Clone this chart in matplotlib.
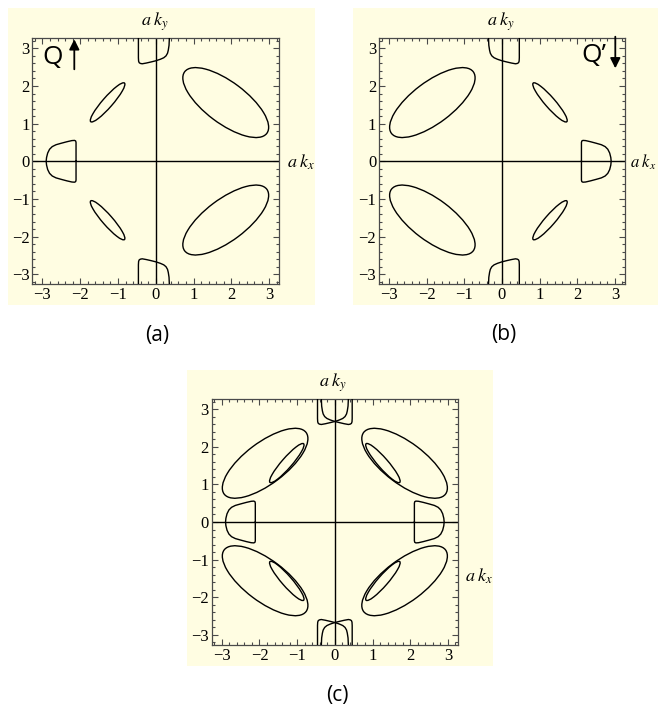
import matplotlib
matplotlib.use('Agg')
import matplotlib.pyplot as plt
from matplotlib.patches import Ellipse, Rectangle, FancyArrowPatch
from matplotlib.ticker import MultipleLocator

plt.rcParams['mathtext.fontset'] = 'stix'

# ---------------- data ----------------
ticks = [-3, -2, -1, 0, 1, 2, 3]
tick_labels = ['\u22123', '\u22122', '\u22121', '0', '1', '2', '3']
lim = 3.267

# Panel (a): spin-up Fermi surface pockets (ellipses)
ell_a_cx = [1.85, 1.85, -1.275, -1.275]
ell_a_cy = [1.56, -1.56, 1.565, -1.565]
ell_a_w = [2.72, 2.72, 1.36, 1.36]
ell_a_h = [1.10, 1.10, 0.27, 0.27]
ell_a_ang = [-37, 37, 49, -49]

# Panel (b): spin-down pockets (ellipses)
ell_b_cx = [-1.85, -1.85, 1.275, 1.275]
ell_b_cy = [1.56, -1.56, 1.565, -1.565]
ell_b_w = [2.72, 2.72, 1.36, 1.36]
ell_b_h = [1.10, 1.10, 0.27, 0.27]
ell_b_ang = [37, -37, -49, 49]

# Panel (a): pocket on the kx axis
pocket_a_x = [-2.11, -2.11, -2.12, -2.15, -2.22, -2.35, -2.50, -2.64, -2.74, -2.81, -2.86, -2.89, -2.90,
              -2.89, -2.86, -2.81, -2.74, -2.64, -2.50, -2.35, -2.22, -2.15, -2.12, -2.11, -2.11]
pocket_a_y = [0.0, 0.50, 0.54, 0.555, 0.55, 0.52, 0.48, 0.44, 0.39, 0.32, 0.22, 0.10, 0.0,
              -0.10, -0.22, -0.32, -0.39, -0.44, -0.48, -0.52, -0.55, -0.555, -0.54, -0.50, 0.0]
# Panel (b): pocket on the kx axis
pocket_b_x = [2.11, 2.11, 2.12, 2.15, 2.22, 2.35, 2.50, 2.64, 2.74, 2.81, 2.86, 2.89, 2.90,
              2.89, 2.86, 2.81, 2.74, 2.64, 2.50, 2.35, 2.22, 2.15, 2.12, 2.11, 2.11]
pocket_b_y = [0.0, 0.50, 0.54, 0.555, 0.55, 0.52, 0.48, 0.44, 0.39, 0.32, 0.22, 0.10, 0.0,
              -0.10, -0.22, -0.32, -0.39, -0.44, -0.48, -0.52, -0.55, -0.555, -0.54, -0.50, 0.0]

# Panel (a): open contours near ky = +-pi
top_a_x = [-0.46, -0.46, -0.46, -0.455, -0.44, -0.41, -0.36, -0.25, -0.12, 0.0, 0.12, 0.21, 0.27, 0.31, 0.33, 0.35, 0.36]
top_a_y = [3.30, 3.0, 2.75, 2.66, 2.62, 2.60, 2.59, 2.61, 2.64, 2.67, 2.71, 2.75, 2.80, 2.87, 2.95, 3.08, 3.30]
bot_a_x = [-0.46, -0.46, -0.46, -0.455, -0.44, -0.41, -0.36, -0.25, -0.12, 0.0, 0.12, 0.21, 0.27, 0.31, 0.33, 0.35, 0.36]
bot_a_y = [-3.30, -3.0, -2.75, -2.66, -2.62, -2.60, -2.59, -2.61, -2.64, -2.67, -2.71, -2.75, -2.80, -2.87, -2.95, -3.08, -3.30]
# Panel (b)
top_b_x = [0.46, 0.46, 0.46, 0.455, 0.44, 0.41, 0.36, 0.25, 0.12, 0.0, -0.12, -0.21, -0.27, -0.31, -0.33, -0.35, -0.36]
top_b_y = [3.30, 3.0, 2.75, 2.66, 2.62, 2.60, 2.59, 2.61, 2.64, 2.67, 2.71, 2.75, 2.80, 2.87, 2.95, 3.08, 3.30]
bot_b_x = [0.46, 0.46, 0.46, 0.455, 0.44, 0.41, 0.36, 0.25, 0.12, 0.0, -0.12, -0.21, -0.27, -0.31, -0.33, -0.35, -0.36]
bot_b_y = [-3.30, -3.0, -2.75, -2.66, -2.62, -2.60, -2.59, -2.61, -2.64, -2.67, -2.71, -2.75, -2.80, -2.87, -2.95, -3.08, -3.30]

panel_names = ['(a)', '(b)', '(c)']

# ---------------- layout ----------------
W, H = 658, 709
BG = '#fffde2'
FRAME = '#4a4a4a'

fig = plt.figure(figsize=(W / 100, H / 100), dpi=100)
fig.patch.set_facecolor('white')


def fx(x):
    return x / W


def fy(y):
    return 1 - y / H


# cream backgrounds (pixel boxes: left, top, right, bottom)
bg_boxes = [(8, 8, 315, 305), (353, 8, 658, 305), (187, 370, 493, 666)]
for l, t, r, b in bg_boxes:
    fig.patches.append(Rectangle((fx(l), fy(b)), fx(r) - fx(l), fy(t) - fy(b),
                                 transform=fig.transFigure, facecolor=BG,
                                 edgecolor='none', zorder=-5))

frames = [(32.3, 38.3, 279.3, 284.3), (379, 38.3, 625, 284.3), (211.7, 399, 458, 645)]
axes = []
for l, t, r, b in frames:
    ax = fig.add_axes([fx(l), fy(b), fx(r) - fx(l), fy(t) - fy(b)])
    ax.set_zorder(2)
    ax.set_facecolor(BG)
    ax.set_xlim(-lim, lim)
    ax.set_ylim(-lim, lim)
    ax.set_xticks(ticks)
    ax.set_yticks(ticks)
    ax.set_xticklabels(tick_labels, family='Liberation Serif', fontsize=12)
    ax.set_yticklabels(tick_labels, family='Liberation Serif', fontsize=12)
    ax.xaxis.set_minor_locator(MultipleLocator(0.2))
    ax.yaxis.set_minor_locator(MultipleLocator(0.2))
    ax.tick_params(which='both', direction='in', top=True, right=True,
                   color=FRAME, width=0.8, pad=2)
    ax.tick_params(which='major', length=4.5)
    ax.tick_params(which='minor', length=2.5)
    for s in ax.spines.values():
        s.set_color(FRAME)
        s.set_linewidth(0.9)
    ax.plot([-lim, lim], [0, 0], color='black', lw=1.0, zorder=2)
    ax.plot([0, 0], [-lim, lim], color='black', lw=1.0, zorder=2)
    axes.append(ax)


def draw_set(ax, ecx, ecy, ew, eh, eang, px, py, tx, ty, bx, by):
    for cx, cy, w, h, a in zip(ecx, ecy, ew, eh, eang):
        ax.add_patch(Ellipse((cx, cy), w, h, angle=a, fill=False,
                             edgecolor='black', lw=1.0, zorder=3))
    ax.plot(px, py, color='black', lw=1.0, zorder=3)
    ax.plot(tx, ty, color='black', lw=1.0, zorder=3)
    ax.plot(bx, by, color='black', lw=1.0, zorder=3)


set_a = (ell_a_cx, ell_a_cy, ell_a_w, ell_a_h, ell_a_ang, pocket_a_x, pocket_a_y,
         top_a_x, top_a_y, bot_a_x, bot_a_y)
set_b = (ell_b_cx, ell_b_cy, ell_b_w, ell_b_h, ell_b_ang, pocket_b_x, pocket_b_y,
         top_b_x, top_b_y, bot_b_x, bot_b_y)

draw_set(axes[0], *set_a)
draw_set(axes[1], *set_b)
draw_set(axes[2], *set_a)
draw_set(axes[2], *set_b)

# axis labels
ky_pos = [(155, 22), (501, 22), (333, 383)]
kx_pos = [(287, 162), (630, 162), (465, 576)]
kx_size = [13, 12, 13]
for (x, y) in ky_pos:
    fig.text(fx(x), fy(y), r'$a\;k_y$', fontsize=13, ha='center', va='center')
for (x, y), s in zip(kx_pos, kx_size):
    fig.text(fx(x), fy(y), r'$a\;k_x$', fontsize=s, ha='left', va='center')

# panel labels
label_pos = [(157, 336), (504, 335), (337, 695)]
for name, (x, y) in zip(panel_names, label_pos):
    fig.text(fx(x), fy(y), name, family='Open Sans', fontsize=15,
             ha='center', va='center')

# Q / Q' markers
fig.text(fx(53), fy(58), 'Q', family='Open Sans', fontsize=19, ha='center', va='center', zorder=5)
fig.add_artist(FancyArrowPatch(
    (fx(74.3), fy(69.3)), (fx(74.3), fy(39.3)), transform=fig.transFigure,
    arrowstyle='-|>,head_length=6,head_width=3', color='black', lw=1.3,
    shrinkA=0, shrinkB=0, zorder=5))
fig.text(fx(594), fy(56), "Q\u2019", family='Open Sans', fontsize=19, ha='center', va='center', zorder=5)
fig.add_artist(FancyArrowPatch(
    (fx(615.3), fy(36.7)), (fx(615.3), fy(68.3)), transform=fig.transFigure,
    arrowstyle='-|>,head_length=6,head_width=3', color='black', lw=1.3,
    shrinkA=0, shrinkB=0, zorder=5))

fig.savefig('out.png', dpi=100, facecolor='white')
